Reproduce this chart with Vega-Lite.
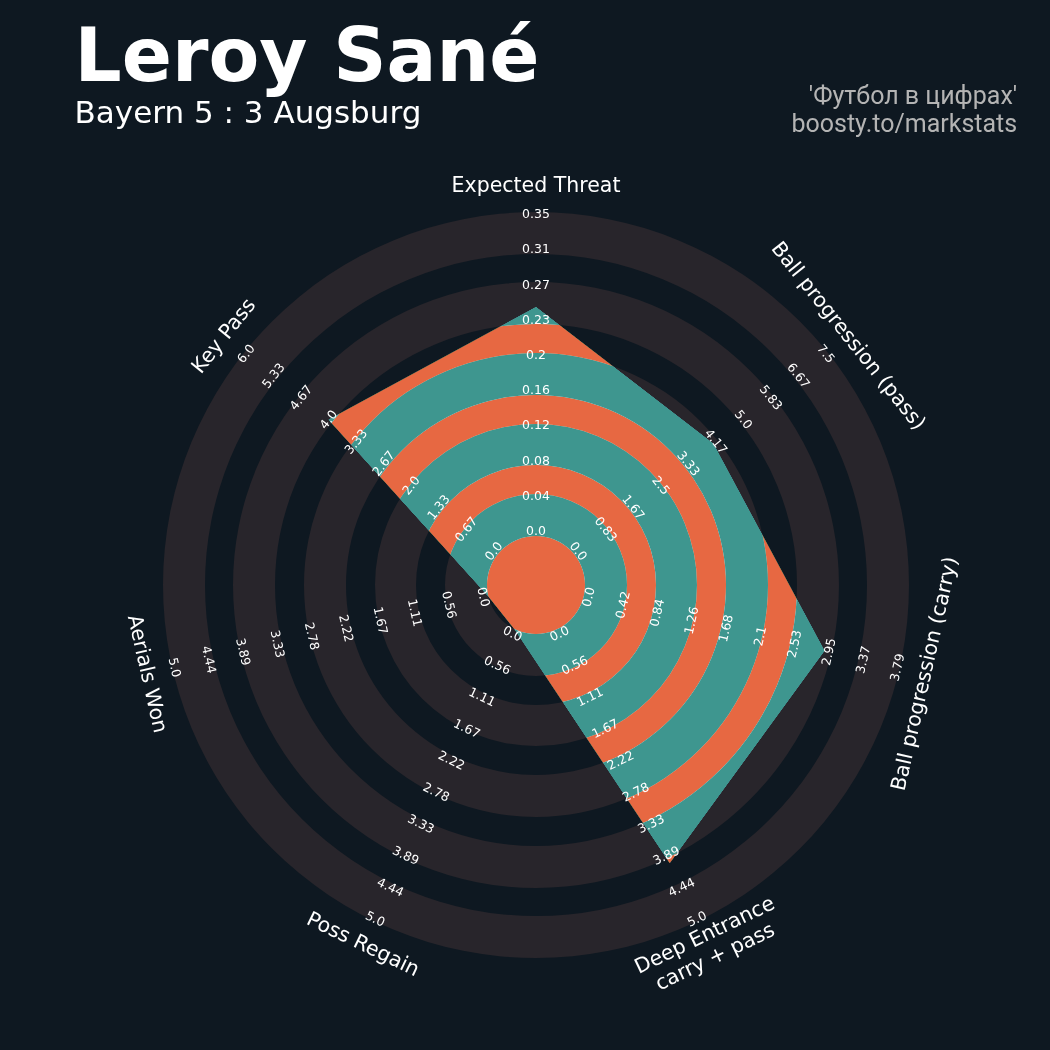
{
  "$schema": "https://vega.github.io/schema/vega-lite/v6.json",
  "width": 746,
  "height": 746,
  "autosize": {"type": "none"},
  "padding": {"left": 163, "top": 212, "right": 141, "bottom": 92},
  "background": "#0e1821",
  "config": {"view": {"stroke": null}},
  "datasets": {
    "params": [
      {"p": 0, "param": "Expected Threat", "value": 0.247, "max": 0.35, "ticks": ["0.0", "0.04", "0.08", "0.12", "0.16", "0.2", "0.23", "0.27", "0.31", "0.35"]},
      {"p": 1, "param": "Ball progression (pass)", "value": 4.11, "max": 7.5, "ticks": ["0.0", "0.83", "1.67", "2.5", "3.33", "4.17", "5.0", "5.83", "6.67", "7.5"]},
      {"p": 2, "param": "Ball progression (carry)", "value": 2.885, "max": 3.79, "ticks": ["0.0", "0.42", "0.84", "1.26", "1.68", "2.1", "2.53", "2.95", "3.37", "3.79"]},
      {"p": 3, "param": "Deep Entrance\ncarry + pass", "value": 4, "max": 5, "ticks": ["0.0", "0.56", "1.11", "1.67", "2.22", "2.78", "3.33", "3.89", "4.44", "5.0"]},
      {"p": 4, "param": "Poss Regain", "value": 0, "max": 5, "ticks": ["0.0", "0.56", "1.11", "1.67", "2.22", "2.78", "3.33", "3.89", "4.44", "5.0"]},
      {"p": 5, "param": "Aerials Won", "value": 0, "max": 5, "ticks": ["0.0", "0.56", "1.11", "1.67", "2.22", "2.78", "3.33", "3.89", "4.44", "5.0"]},
      {"p": 6, "param": "Key Pass", "value": 4, "max": 6, "ticks": ["0.0", "0.67", "1.33", "2.0", "2.67", "3.33", "4.0", "4.67", "5.33", "6.0"]}
    ],
    "bands": [
      {"r_in": 0, "r_out": 1.314, "band": "centre"},
      {"r_in": 1.314, "r_out": 2.44, "band": "wide"},
      {"r_in": 2.44, "r_out": 3.217, "band": "narrow"},
      {"r_in": 3.217, "r_out": 4.316, "band": "wide"},
      {"r_in": 4.316, "r_out": 5.094, "band": "narrow"},
      {"r_in": 5.094, "r_out": 6.22, "band": "wide"},
      {"r_in": 6.22, "r_out": 6.997, "band": "narrow"},
      {"r_in": 6.997, "r_out": 8.123, "band": "wide"},
      {"r_in": 8.123, "r_out": 8.874, "band": "narrow"},
      {"r_in": 8.874, "r_out": 10, "band": "wide"}
    ]
  },
  "layer": [
    {
      "data": {"name": "params"},
      "transform": [
        {"calculate": "1.3137 + 8.6863 * datum.value / datum.max", "as": "r"},
        {"calculate": "datum.r * sin(datum.p * 2 * PI / 7)", "as": "px"},
        {"calculate": "datum.r * cos(datum.p * 2 * PI / 7)", "as": "py"}
      ],
      "mark": {"type": "line", "interpolate": "linear-closed", "fill": "#ffffff", "stroke": "#ffffff", "strokeWidth": 0.5},
      "encoding": {
        "x": {"field": "px", "type": "quantitative", "scale": {"domain": [-10, 10], "nice": false, "zero": false}, "axis": null},
        "y": {"field": "py", "type": "quantitative", "scale": {"domain": [-10, 10], "nice": false, "zero": false}, "axis": null},
        "order": {"field": "p", "type": "quantitative"}
      }
    },
    {
      "data": {"name": "bands"},
      "mark": {"type": "arc", "theta": 0, "theta2": 6.2832, "blend": "darken"},
      "encoding": {
        "radius": {"field": "r_out", "type": "quantitative", "scale": {"type": "linear", "domain": [0, 10], "range": [0, 373], "zero": true, "nice": false}},
        "radius2": {"field": "r_in"},
        "color": {"field": "band", "type": "nominal", "scale": {"domain": ["centre", "wide", "narrow"], "range": ["#e76842", "#3e968f", "#e76842"]}, "legend": null}
      }
    },
    {
      "data": {"name": "bands"},
      "transform": [{"filter": "datum.band === 'wide'"}],
      "mark": {"type": "arc", "theta": 0, "theta2": 6.2832, "fill": "#28252b", "blend": "lighten"},
      "encoding": {
        "radius": {"field": "r_out", "type": "quantitative", "scale": {"type": "linear", "domain": [0, 10], "range": [0, 373], "zero": true, "nice": false}},
        "radius2": {"field": "r_in"}
      }
    },
    {
      "data": {"name": "params"},
      "transform": [
        {"flatten": ["ticks"], "as": ["tick"]},
        {"window": [{"op": "row_number", "as": "k"}], "groupby": ["p"]},
        {"calculate": "1.448 + 0.9437 * (datum.k - 1)", "as": "r"},
        {"calculate": "datum.p * 360 / 7", "as": "deg"},
        {"calculate": "datum.r * sin(datum.deg * PI / 180)", "as": "tx"},
        {"calculate": "datum.r * cos(datum.deg * PI / 180)", "as": "ty"},
        {"calculate": "datum.deg > 90 && datum.deg < 270 ? datum.deg - 180 : (datum.deg >= 270 ? datum.deg - 360 : datum.deg)", "as": "rot"}
      ],
      "mark": {"type": "text", "font": "DejaVu Sans", "fontSize": 12.5, "fill": "#ffffff", "align": "center", "baseline": "middle"},
      "encoding": {
        "x": {"field": "tx", "type": "quantitative", "scale": {"domain": [-10, 10], "nice": false, "zero": false}, "axis": null},
        "y": {"field": "ty", "type": "quantitative", "scale": {"domain": [-10, 10], "nice": false, "zero": false}, "axis": null},
        "text": {"field": "tick", "type": "nominal"},
        "angle": {"field": "rot", "type": "quantitative", "scale": null}
      }
    },
    {
      "data": {"name": "params"},
      "transform": [
        {"calculate": "datum.p * 360 / 7", "as": "deg"},
        {"calculate": "indexof(datum.param, '\\n') >= 0 ? 10.43 : 10.7", "as": "lr"},
        {"calculate": "datum.lr * sin(datum.deg * PI / 180)", "as": "lx"},
        {"calculate": "datum.lr * cos(datum.deg * PI / 180)", "as": "ly"},
        {"calculate": "datum.deg > 90 && datum.deg < 270 ? datum.deg - 180 : (datum.deg >= 270 ? datum.deg - 360 : datum.deg)", "as": "rot"}
      ],
      "mark": {"type": "text", "font": "DejaVu Sans", "fontSize": 20.5, "fill": "#ffffff", "align": "center", "baseline": "middle", "lineBreak": "\n", "lineHeight": 24},
      "encoding": {
        "x": {"field": "lx", "type": "quantitative", "scale": {"domain": [-10, 10], "nice": false, "zero": false}, "axis": null},
        "y": {"field": "ly", "type": "quantitative", "scale": {"domain": [-10, 10], "nice": false, "zero": false}, "axis": null},
        "text": {"field": "param", "type": "nominal"},
        "angle": {"field": "rot", "type": "quantitative", "scale": null}
      }
    },
    {
      "data": {"values": [{"t": "Leroy Sané"}]},
      "mark": {"type": "text", "font": "DejaVu Sans", "fontWeight": "bold", "fontSize": 74, "fill": "#ffffff", "align": "left", "baseline": "alphabetic"},
      "encoding": {
        "x": {"datum": -12.37, "type": "quantitative", "scale": {"domain": [-10, 10], "nice": false, "zero": false}, "axis": null},
        "y": {"datum": 13.52, "type": "quantitative", "scale": {"domain": [-10, 10], "nice": false, "zero": false}, "axis": null},
        "text": {"field": "t", "type": "nominal"}
      }
    },
    {
      "data": {"values": [{"t": "Bayern 5 : 3 Augsburg"}]},
      "mark": {"type": "text", "font": "DejaVu Sans", "fontSize": 31, "fill": "#ffffff", "align": "left", "baseline": "alphabetic"},
      "encoding": {
        "x": {"datum": -12.37, "type": "quantitative", "scale": {"domain": [-10, 10], "nice": false, "zero": false}, "axis": null},
        "y": {"datum": 12.38, "type": "quantitative", "scale": {"domain": [-10, 10], "nice": false, "zero": false}, "axis": null},
        "text": {"field": "t", "type": "nominal"}
      }
    },
    {
      "data": {"values": [{"t": "'Футбол в цифрах'\nboosty.to/markstats"}]},
      "mark": {"type": "text", "font": "Roboto", "fontSize": 25, "fill": "#b4b4b4", "align": "right", "baseline": "alphabetic", "lineBreak": "\n", "lineHeight": 27.4},
      "encoding": {
        "x": {"datum": 12.9, "type": "quantitative", "scale": {"domain": [-10, 10], "nice": false, "zero": false}, "axis": null},
        "y": {"datum": 12.89, "type": "quantitative", "scale": {"domain": [-10, 10], "nice": false, "zero": false}, "axis": null},
        "text": {"field": "t", "type": "nominal"}
      }
    }
  ]
}
